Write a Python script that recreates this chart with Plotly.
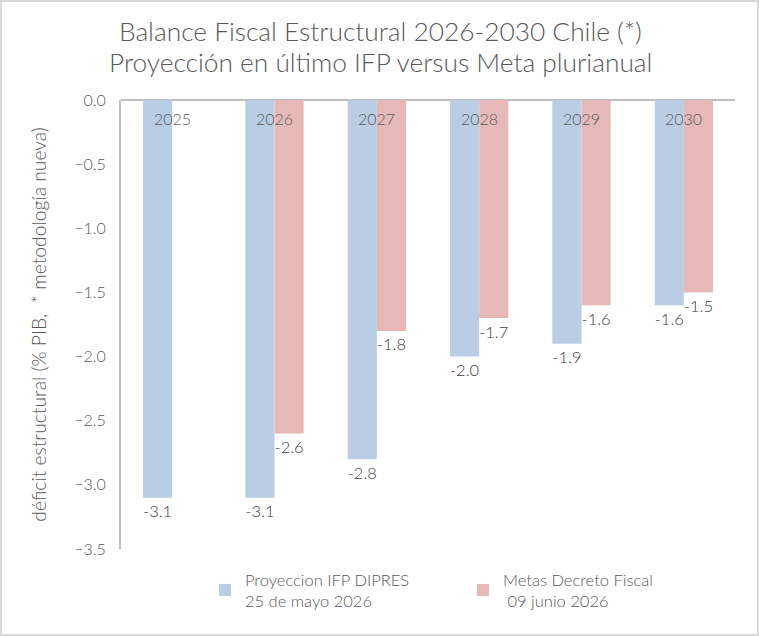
import plotly.graph_objects as go

years = ["2025", "2026", "2027", "2028", "2029", "2030"]
proyeccion_ifp = [-3.1, -3.1, -2.8, -2.0, -1.9, -1.6]
metas_decreto = [None, -2.6, -1.8, -1.7, -1.6, -1.5]
series_names = ["Proyeccion IFP DIPRES<br>25 de mayo 2026", "Metas Decreto Fiscal<br> 09 junio 2026"]
title_lines = ["Balance Fiscal Estructural 2026-2030 Chile (*)",
               "Proyección en último IFP versus Meta plurianual"]
ytitle = "déficit estructural (% PIB,  * metodología nueva)"

FONT = "Lato"
W, H = 759, 636
L, R, T, B = 121, 24, 100, 87
pw, ph = W - L - R, H - T - B

def px2x(px):
    return (px - L) / pw

def px2y(py):
    return (H - B - py) / ph

fig = go.Figure()
fig.add_trace(go.Bar(
    x=years, y=proyeccion_ifp, name=series_names[0],
    marker=dict(color="#B9CDE5", line=dict(width=0)),
    text=[f"{v:.1f}" for v in proyeccion_ifp], textposition="outside",
    textfont=dict(family=FONT, size=17, color="#404040", weight=300),
    cliponaxis=False,
))
fig.add_trace(go.Bar(
    x=years, y=metas_decreto, name=series_names[1],
    marker=dict(color="#E6B9B8", line=dict(width=0)),
    text=["" if v is None else f"{v:.1f}" for v in metas_decreto], textposition="outside",
    textfont=dict(family=FONT, size=17, color="#404040", weight=300),
    cliponaxis=False,
))

for i, yr in enumerate(years):
    fig.add_annotation(x=i, y=0, xref="x", yref="y", text=yr, showarrow=False,
                       yanchor="top", yshift=-7,
                       font=dict(family=FONT, size=16, color="#595959", weight=300))

for line, cy in zip(title_lines, [31, 62]):
    fig.add_annotation(x=px2x(380), xref="paper", y=px2y(cy), yref="paper", yanchor="middle",
                       xanchor="center", text=line, showarrow=False,
                       font=dict(family=FONT, size=26.3, color="#595959", weight=300))

fig.add_shape(type="rect", xref="paper", yref="paper",
              x0=px2x(1), x1=px2x(758), y0=px2y(635), y1=px2y(1),
              line=dict(color="#D9D9D9", width=2), layer="below")

fig.update_layout(
    width=W, height=H,
    margin=dict(l=L, r=R, t=T, b=B, autoexpand=False),
    paper_bgcolor="white", plot_bgcolor="white",
    barmode="group", bargap=0.43, bargroupgap=0,
    xaxis=dict(type="category", range=[-0.5, 5.5], showticklabels=False, showline=False,
               showgrid=False, zeroline=False, ticks=""),
    yaxis=dict(range=[-3.5, 0], dtick=0.5, tickformat=".1f", showgrid=False,
               zeroline=True, zerolinecolor="#BFBFBF", zerolinewidth=2,
               showline=True, linecolor="#BFBFBF", linewidth=2,
               ticks="", ticklabelstandoff=10,
               tickfont=dict(family=FONT, size=16, color="#595959", weight=300),
               title=dict(text=ytitle, standoff=22,
                          font=dict(family=FONT, size=19.3, color="#595959", weight=300))),
    showlegend=True,
    legend=dict(orientation="h", x=px2x(205), xanchor="left", y=px2y(562), yanchor="top",
                entrywidth=213, entrywidthmode="pixels",
                font=dict(family=FONT, size=16.5, color="#595959", weight=300),
                bgcolor="rgba(0,0,0,0)"),
)

fig.write_html("out.html")
